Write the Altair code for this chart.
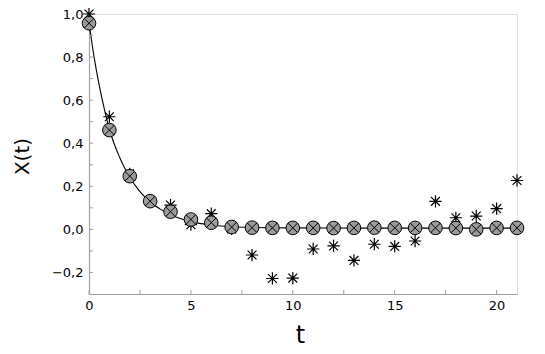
import altair as alt
import pandas as pd

# observed times
t_vals = list(range(22))
# circle (model/sampled) values
circle_vals = [0.957, 0.461, 0.247, 0.131, 0.082, 0.046, 0.031, 0.011, 0.008, 0.007, 0.007,
               0.007, 0.006, 0.007, 0.008, 0.007, 0.007, 0.007, 0.006, 0.000, 0.007, 0.007]
# star (noisy) values
star_vals = [1.0, 0.523, 0.258, 0.133, 0.113, 0.022, 0.073, 0.002, -0.119, -0.228, -0.226,
             -0.091, -0.077, -0.144, -0.069, -0.079, -0.054, 0.130, 0.054, 0.062, 0.096, 0.227]
# fitted curve
curve_t = [0, 0.25, 0.5, 0.75, 1, 1.5, 2, 2.5, 3, 3.5, 4, 5, 6, 7, 8, 10, 14, 21]
curve_v = [0.96, 0.80, 0.67, 0.56, 0.465, 0.335, 0.242, 0.175, 0.127, 0.094, 0.068, 0.036,
           0.020, 0.012, 0.009, 0.007, 0.006, 0.006]

x_ticks = [0, 2.5, 5, 7.5, 10, 12.5, 15, 17.5, 20]
y_ticks = [-0.2, -0.1, 0.0, 0.1, 0.2, 0.3, 0.4, 0.5, 0.6, 0.7, 0.8, 0.9, 1.0]

pts = pd.DataFrame({"t": t_vals, "c": circle_vals, "s": star_vals})
curve = pd.DataFrame({"t": curve_t, "v": curve_v})
xt = pd.DataFrame({"v": x_ticks})
yt = pd.DataFrame({"v": y_ticks})

AXC = "#a0a0a0"
FONT = "DejaVu Sans"
H = 280

xscale = alt.Scale(domain=[0, 21], nice=False, zero=False)
yscale = alt.Scale(domain=[-0.3, 1.0], nice=False, zero=False)

xaxis = alt.Axis(values=x_ticks, tickSize=0, domainColor=AXC, domainWidth=1.2,
                 labelExpr="datum.value % 5 == 0 ? format(datum.value, 'd') : ''",
                 labelFont=FONT, labelFontSize=13, labelColor="black", labelPadding=5,
                 labelFlush=False,
                 title="t", titleFont=FONT, titleFontSize=24, titleFontWeight="normal",
                 titleColor="black", titleX=211, titleY=41, titleBaseline="middle",
                 grid=False)
yaxis = alt.Axis(values=y_ticks, tickSize=0, domainColor=AXC, domainWidth=1.2,
                 labelExpr="abs(round(datum.value*10)) % 2 == 0 ? replace(format(datum.value, '.1f'), '.', ',') : ''",
                 labelFont=FONT, labelFontSize=13, labelColor="black", labelPadding=6,
                 labelFlush=False,
                 title="X(t)", titleFont=FONT, titleFontSize=20, titleFontWeight="normal",
                 titleColor="black", titleX=-67, titleY=142, titleAngle=270,
                 titleAlign="center", titleBaseline="middle", grid=False)

line = alt.Chart(curve).mark_line(color="black", strokeWidth=1.1, interpolate="monotone").encode(
    x=alt.X("t:Q", scale=xscale, axis=xaxis),
    y=alt.Y("v:Q", scale=yscale, axis=yaxis),
)

xtick_marks = alt.Chart(xt).mark_rule(color=AXC, strokeWidth=1).encode(
    x=alt.X("v:Q", scale=xscale), y=alt.value(H), y2=alt.value(H - 4))
ytick_marks = alt.Chart(yt).mark_rule(color=AXC, strokeWidth=1).encode(
    y=alt.Y("v:Q", scale=yscale), x=alt.value(0), x2=alt.value(4))

STAR = "M0,-1L0,1M-1,0L1,0M-0.72,-0.72L0.72,0.72M-0.72,0.72L0.72,-0.72"
XSHAPE = "M-0.7,-0.7L0.7,0.7M-0.7,0.7L0.7,-0.7"

stars = alt.Chart(pts).mark_point(shape=STAR, size=150, stroke="black", strokeWidth=1.2,
                                  filled=False, opacity=1).encode(
    x=alt.X("t:Q", scale=xscale), y=alt.Y("s:Q", scale=yscale))
circles = alt.Chart(pts).mark_point(shape="circle", size=185, fill="#9b9b9b", stroke="black",
                                    strokeWidth=1, filled=True, fillOpacity=1, opacity=1).encode(
    x=alt.X("t:Q", scale=xscale), y=alt.Y("c:Q", scale=yscale))
crosses = alt.Chart(pts).mark_point(shape=XSHAPE, size=185, stroke="black", strokeWidth=1,
                                    filled=False, opacity=1).encode(
    x=alt.X("t:Q", scale=xscale), y=alt.Y("c:Q", scale=yscale))

chart = alt.layer(line, xtick_marks, ytick_marks, stars, circles, crosses).properties(
    width=428, height=H,
    autosize=alt.AutoSizeParams(type="none"),
    padding={"left": 81, "top": 6, "right": 20, "bottom": 58},
).configure_view(stroke=None).configure(background="white")

chart.save("out.html", embed_options={"renderer": "svg", "actions": False})
